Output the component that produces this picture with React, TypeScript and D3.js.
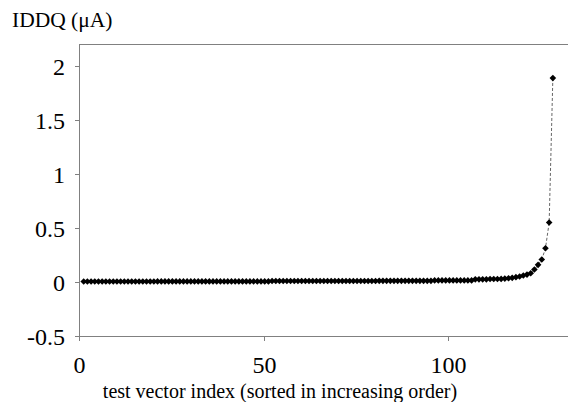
import * as d3 from "d3";
import React from "react";

// IDDQ readings (uA), sorted ascending, one per test vector (index 1..128)
const iddq = [
  0.004, 0.004, 0.004, 0.004, 0.004, 0.004, 0.004, 0.004, 0.004, 0.004,
  0.004, 0.004, 0.004, 0.004, 0.004, 0.004, 0.004, 0.004, 0.004, 0.004,
  0.005, 0.005, 0.005, 0.005, 0.005, 0.005, 0.005, 0.005, 0.005, 0.005,
  0.005, 0.005, 0.005, 0.005, 0.005, 0.005, 0.005, 0.005, 0.005, 0.005,
  0.005, 0.005, 0.005, 0.005, 0.005, 0.005, 0.005, 0.005, 0.005, 0.005,
  0.005, 0.008, 0.008, 0.008, 0.008, 0.008, 0.008, 0.008, 0.008, 0.008,
  0.008, 0.008, 0.008, 0.008, 0.008, 0.008, 0.008, 0.008, 0.008, 0.008,
  0.008, 0.008, 0.008, 0.008, 0.008, 0.008, 0.008, 0.008, 0.008, 0.008,
  0.010, 0.010, 0.010, 0.010, 0.010, 0.010, 0.010, 0.010, 0.010, 0.010,
  0.010, 0.010, 0.010, 0.010, 0.010, 0.014, 0.014, 0.014, 0.014, 0.014,
  0.014, 0.014, 0.014, 0.014, 0.014, 0.014, 0.024, 0.024, 0.024, 0.024,
  0.027, 0.027, 0.027, 0.028, 0.031, 0.034, 0.038, 0.044, 0.050, 0.059,
  0.068, 0.080, 0.115, 0.158, 0.207, 0.311, 0.549, 1.885,
];
const xTicks = [0, 50, 100];
const yTicks = [-0.5, 0, 0.5, 1, 1.5, 2];

const width = 568;
const height = 402;
const left = 80; // plot area edges, in pixels
const top = 44;
const bottom = 336;
const font = "'Liberation Serif', 'Times New Roman', Times, serif";
const axisColor = "#808080";

export default function App() {
  const x = d3.scaleLinear().domain([0, 132.1]).range([left, width]);
  const y = d3.scaleLinear().domain([-0.5, 2.2]).range([bottom, top]);

  const line = d3.line<number>()
    .x((d, i) => x(i + 1))
    .y((d) => y(d));
  const diamond = d3.symbol().type(d3.symbolDiamond2).size(28)();

  return (
    <svg
      width={width}
      height={height}
      style={{ position: "absolute", left: 0, top: 0, background: "#fff", fontFamily: font }}
    >
      {/* frame */}
      <line x1={left} x2={width} y1={top + 0.5} y2={top + 0.5} stroke={axisColor} />
      <line x1={left - 0.5} x2={left - 0.5} y1={top} y2={bottom + 1} stroke={axisColor} />
      <line x1={left} x2={width} y1={bottom + 0.5} y2={bottom + 0.5} stroke={axisColor} />

      {yTicks.map((t) => (
        <g key={t} transform={`translate(0,${Math.round(y(t)) + 0.5})`}>
          <line x1={left - 5} x2={left} stroke={axisColor} />
          <text x={left - 15} dy="0.34em" textAnchor="end" fontSize={24} fill="#000">
            {t}
          </text>
        </g>
      ))}

      {xTicks.map((t) => (
        <g key={t} transform={`translate(${Math.round(x(t)) - 0.5},0)`}>
          <line y1={bottom} y2={bottom + 5} stroke={axisColor} />
          <text y={373} textAnchor="middle" fontSize={24} fill="#000">
            {t}
          </text>
        </g>
      ))}

      <path d={line(iddq) ?? ""} fill="none" stroke="#666" strokeWidth={1} strokeDasharray="3,2" />

      {iddq.map((d, i) => (
        <path key={i} d={diamond ?? ""} transform={`translate(${x(i + 1)},${y(d)})`} fill="#000" />
      ))}

      <text x={12} y={27} fontSize={21.5}>IDDQ (&#956;A)</text>
      <text x={280} y={398} textAnchor="middle" fontSize={20}>
        test vector index (sorted in increasing order)
      </text>
    </svg>
  );
}
